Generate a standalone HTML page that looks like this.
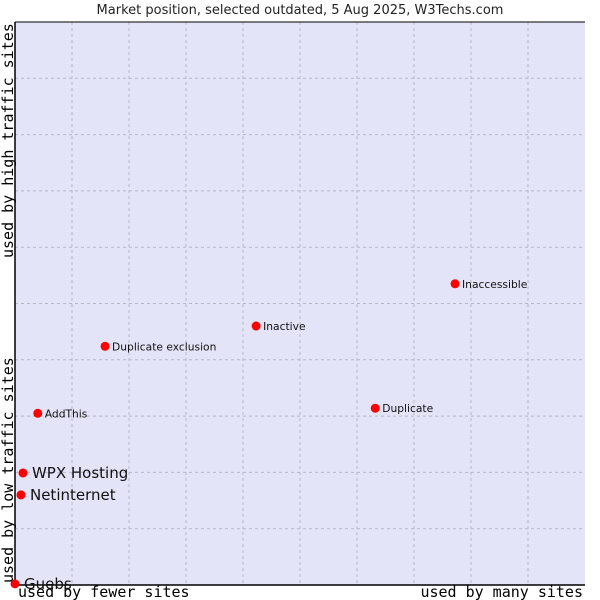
<!DOCTYPE html>
<html><head><meta charset="utf-8"><style>
body{margin:0;background:#fff;}
svg{display:block;}
</style></head><body>
<svg id="chart" width="600" height="600" xmlns="http://www.w3.org/2000/svg">
<text x="300" y="14" text-anchor="middle" font-family="DejaVu Sans, sans-serif" font-size="13" fill="#222">Market position, selected outdated, 5 Aug 2025, W3Techs.com</text>
<rect x="15" y="22" width="570" height="563" fill="#e3e4f8"/>
<g id="grid"></g>
<line x1="15" y1="22" x2="15" y2="585" stroke="#000" stroke-width="1.5"/>
<line x1="15" y1="585" x2="585" y2="585" stroke="#000" stroke-width="1.5"/>
<line x1="15" y1="22" x2="585" y2="22" stroke="#000" stroke-width="1"/>
<g id="points"></g>
<text x="18" y="597" font-family="DejaVu Sans Mono, monospace" font-size="15" fill="#000">used by fewer sites</text>
<text x="583" y="597" text-anchor="end" font-family="DejaVu Sans Mono, monospace" font-size="15" fill="#000">used by many sites</text>
<text transform="translate(13,583) rotate(-90)" font-family="DejaVu Sans Mono, monospace" font-size="15" fill="#000">used by low traffic sites</text>
<text transform="translate(13,258) rotate(-90)" font-family="DejaVu Sans Mono, monospace" font-size="15" fill="#000">used by high traffic sites</text>
</svg>
<script>
const names = ["Guebs","Netinternet","WPX Hosting","AddThis","Duplicate exclusion","Inactive","Duplicate","Inaccessible"];
const xVals = [0, 1.05, 1.4, 4.0, 15.8, 42.3, 63.2, 77.2];
const yVals = [0.2, 16.0, 19.9, 30.5, 42.4, 46.0, 31.4, 53.5];
const bigLabel = [true, true, true, false, false, false, false, false];
const gridTicks = [1,2,3,4,5,6,7,8,9];
const NS = "http://www.w3.org/2000/svg";
const X = v => 15 + v / 100 * 570;
const Y = v => 585 - v / 100 * 563;
const grid = document.getElementById('grid');
gridTicks.forEach(t => {
  const v = document.createElementNS(NS, 'line');
  
  
  v.setAttribute('x1', X(t*10)); v.setAttribute('x2', X(t*10));
  v.setAttribute('y1', 22); v.setAttribute('y2', 585);
  v.setAttribute('stroke', '#b8b8c0'); v.setAttribute('stroke-dasharray', '3,3');
  grid.appendChild(v);
  const h = document.createElementNS(NS, 'line');
  
  
  h.setAttribute('x1', 15); h.setAttribute('x2', 585);
  h.setAttribute('y1', Y(t*10)); h.setAttribute('y2', Y(t*10));
  h.setAttribute('stroke', '#b8b8c0'); h.setAttribute('stroke-dasharray', '3,3');
  grid.appendChild(h);
});
const pts = document.getElementById('points');
names.forEach((n, i) => {
  const cx = X(xVals[i]), cy = Y(yVals[i]);
  const d = document.createElementNS(NS, 'circle');
  
  
  d.setAttribute('cx', cx); d.setAttribute('cy', cy); d.setAttribute('r', 4.5);
  d.setAttribute('fill', '#ff0000');
  pts.appendChild(d);
  const t = document.createElementNS(NS, 'text');
  
  
  t.setAttribute('x', cx + (bigLabel[i] ? 9 : 7));
  t.setAttribute('y', cy + (bigLabel[i] ? 5 : 4));
  t.setAttribute('font-family', 'DejaVu Sans, sans-serif');
  t.setAttribute('font-size', bigLabel[i] ? 15 : 10.7);
  t.setAttribute('fill', '#111');
  t.textContent = n;
  pts.appendChild(t);
});
</script>
</body></html>
